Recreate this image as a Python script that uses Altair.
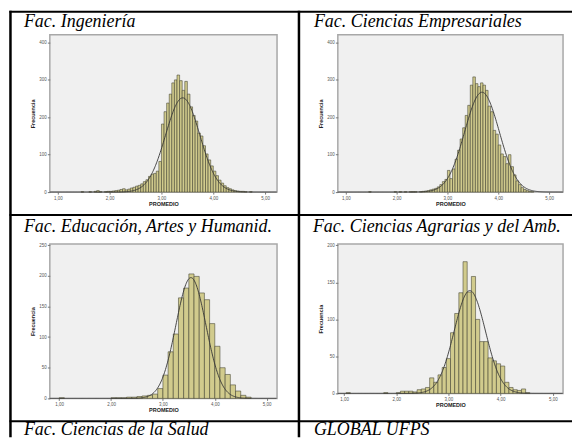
import altair as alt
import pandas as pd

# ---- Histogram data per faculty (bin start, bin width, counts) ----
ING_INICIO, ING_ANCHO = 1.45, 0.05
ING_FREC = [1, 0, 0, 1, 0, 2, 4, 1, 0, 1, 2, 2, 3, 4, 5, 7, 9, 6, 8, 11, 13, 16, 18, 22,
            28, 33, 42, 48, 50, 56, 82, 182, 215, 238, 262, 292, 300, 313, 298, 272, 296,
            262, 228, 205, 190, 158, 150, 124, 102, 86, 70, 56, 44, 32, 24, 17, 12, 9, 6,
            4, 3, 2, 2, 1, 0, 1]

EMP_INICIO, EMP_ANCHO = 1.45, 0.05
EMP_FREC = [1, 0, 0, 0, 0, 0, 0, 0, 0, 0, 1, 0, 1, 0, 1, 0, 1, 1, 1, 0, 1, 2, 3, 4, 6,
            8, 10, 14, 20, 28, 34, 58, 36, 62, 88, 112, 142, 172, 205, 232, 286, 308, 290,
            282, 292, 286, 272, 230, 215, 165, 155, 126, 102, 95, 76, 100, 68, 46, 30, 20,
            12, 7, 4, 2, 1]

EDU_INICIO, EDU_ANCHO = 1.0, 0.1
EDU_FREC = [1, 0, 0, 0, 0, 0, 0, 0, 0, 0, 1, 1, 1, 2, 2, 3, 4, 5, 7, 16, 38, 76, 105,
            164, 180, 203, 199, 172, 161, 122, 85, 50, 39, 22, 12, 5, 2]

AGR_INICIO, AGR_ANCHO = 1.04, 0.08
AGR_FREC = [1, 0, 0, 0, 0, 0, 0, 0, 0, 1, 0, 0, 1, 3, 3, 3, 2, 5, 6, 8, 21, 15, 25, 35,
            47, 82, 108, 136, 178, 137, 158, 100, 70, 70, 48, 44, 40, 37, 15, 8, 5, 4, 6, 1]

# Normal curve parameters (mean, standard deviation, N)
ING_NORMAL = (3.41, 0.33, 4169)
EMP_NORMAL = (3.68, 0.34, 4551)
EDU_NORMAL = (3.54, 0.29, 1432)
AGR_NORMAL = (3.41, 0.30, 1306)

TITULOS = ["Fac. Ingeniería", "Fac. Ciencias Empresariales",
           "Fac. Educación, Artes y Humanid.", "Fac. Ciencias Agrarias y del Amb.",
           "Fac. Ciencias de la Salud", "GLOBAL UFPS"]

X_TICKS = [1, 2, 3, 4, 5]
Y_TICKS_400 = [0, 100, 200, 300, 400]
Y_TICKS_250 = [0, 50, 100, 150, 200, 250]
Y_TICKS_200 = [0, 50, 100, 150, 200]

BAR_FILL = "#D1CB8D"
BAR_STROKE = "#3E3E2E"
CURVE_COLOR = "#353535"
SERIF = "'Liberation Serif', 'Times New Roman', serif"
SANS = "Liberation Sans"

UNA_FILA = pd.DataFrame({"k": [0]})


def eje_x():
    return alt.Axis(values=X_TICKS, labelExpr="replace(format(datum.value, '.2f'), '.', ',')",
                    title="PROMEDIO", titleFont=SANS, titleFontSize=5.5, titleFontWeight="bold",
                    titleColor="#222", titlePadding=2, labelFont=SANS, labelFontSize=4.5,
                    labelColor="#555", labelPadding=1, tickSize=2, tickColor="#777",
                    domain=False, grid=False, labelFlush=False, labelOverlap=False)


def eje_y(valores):
    return alt.Axis(values=valores, labelExpr="format(datum.value, 'd')", title="Frecuencia",
                    titleFont=SANS, titleFontSize=5.5, titleFontWeight="bold", titleColor="#222",
                    titlePadding=3, labelFont=SANS, labelFontSize=4.5, labelColor="#555",
                    labelPadding=1, tickSize=2.5, tickColor="#777", domain=False, grid=False,
                    labelOverlap=False, labelFlush=False, labelBound=False)


def texto(t, x, y, origen, size=18):
    ox, oy = origen
    return alt.Chart(UNA_FILA).mark_text(
        text=t, align="left", baseline="alphabetic", font=SERIF, fontStyle="italic",
        fontSize=size, color="black").encode(x=alt.value(x - ox), y=alt.value(y - oy))


def linea(x1, y1, x2, y2, origen, grosor):
    ox, oy = origen
    return alt.Chart(UNA_FILA).mark_rule(color="black", strokeWidth=grosor).encode(
        x=alt.value(x1 - ox), x2=alt.value(x2 - ox), y=alt.value(y1 - oy), y2=alt.value(y2 - oy))


def panel(inicio, ancho, frec, normal, xdom, ymax, yvals, w, h, extras):
    desde = [round(inicio + i * ancho, 4) for i in range(len(frec))]
    df = pd.DataFrame({"desde": desde, "hasta": [round(d + ancho, 4) for d in desde],
                       "frecuencia": frec})
    df = df[df["frecuencia"] > 0]
    xs = alt.Scale(domain=xdom, nice=False, zero=False)
    ys = alt.Scale(domain=[0, ymax], nice=False)
    barras = alt.Chart(df).mark_rect(fill=BAR_FILL, stroke=BAR_STROKE, strokeWidth=0.55).encode(
        x=alt.X("desde:Q", scale=xs, axis=eje_x()),
        x2="hasta:Q",
        y=alt.Y("frecuencia:Q", scale=ys, axis=eje_y(yvals)),
        y2=alt.datum(0),
    )
    media, desv, n = normal
    curva = alt.Chart(alt.sequence(xdom[0], xdom[1], 0.01, as_="x")).transform_calculate(
        f=f"{n}*{ancho}*exp(-0.5*pow((datum.x-{media})/{desv},2))/({desv}*sqrt(2*PI))"
    ).mark_line(color=CURVE_COLOR, strokeWidth=0.9).encode(
        x=alt.X("x:Q", scale=xs, axis=eje_x()),
        y=alt.Y("f:Q", scale=ys, axis=eje_y(yvals)),
    )
    return alt.layer(barras, curva, *extras).properties(width=w, height=h)


# plot-area origins on the page
O1, O2, O3, O4 = (49, 33), (338, 33), (49, 243), (338, 243)

marco = [
    alt.Chart(UNA_FILA).mark_rect(opacity=0).encode(
        x=alt.value(0 - O1[0]), x2=alt.value(574 - O1[0]),
        y=alt.value(0 - O1[1]), y2=alt.value(438 - O1[1])),
    linea(8.5, 10, 573, 10, O1, 2),
    linea(8.5, 214, 573, 214, O1, 2),
    linea(8.5, 421, 573, 421, O1, 2),
    linea(9.5, 9, 9.5, 437, O1, 2.5),
    linea(299, 9, 299, 437, O1, 2.5),
]

c1 = panel(ING_INICIO, ING_ANCHO, ING_FREC, ING_NORMAL, [0.846, 5.23], 421, Y_TICKS_400,
           228, 158, marco + [texto(TITULOS[0], 23, 25, O1)])
c2 = panel(EMP_INICIO, EMP_ANCHO, EMP_FREC, EMP_NORMAL, [0.843, 5.275], 421, Y_TICKS_400,
           226, 158, [texto(TITULOS[1], 314, 25, O2)])
c3 = panel(EDU_INICIO, EDU_ANCHO, EDU_FREC, EDU_NORMAL, [0.82, 5.2], 252, Y_TICKS_250,
           228, 155, [texto(TITULOS[2], 23, 231, O3), texto(TITULOS[4], 23, 435, O3)])
c4 = panel(AGR_INICIO, AGR_ANCHO, AGR_FREC, AGR_NORMAL, [0.88, 5.197], 202, Y_TICKS_200,
           226, 150, [texto(TITULOS[3], 313, 231, O4), texto(TITULOS[5], 314, 435, O4)])

chart = alt.concat(
    c1, c2, c3, c4, columns=2, bounds="flush",
    spacing={"row": 52, "column": 61},
).properties(
    padding=0, background="white"
).configure_view(
    fill="#F0F0F0", stroke="#A8A8A8", strokeWidth=1.5
)

chart.save("out.html", embed_options={"renderer": "svg", "actions": False})
